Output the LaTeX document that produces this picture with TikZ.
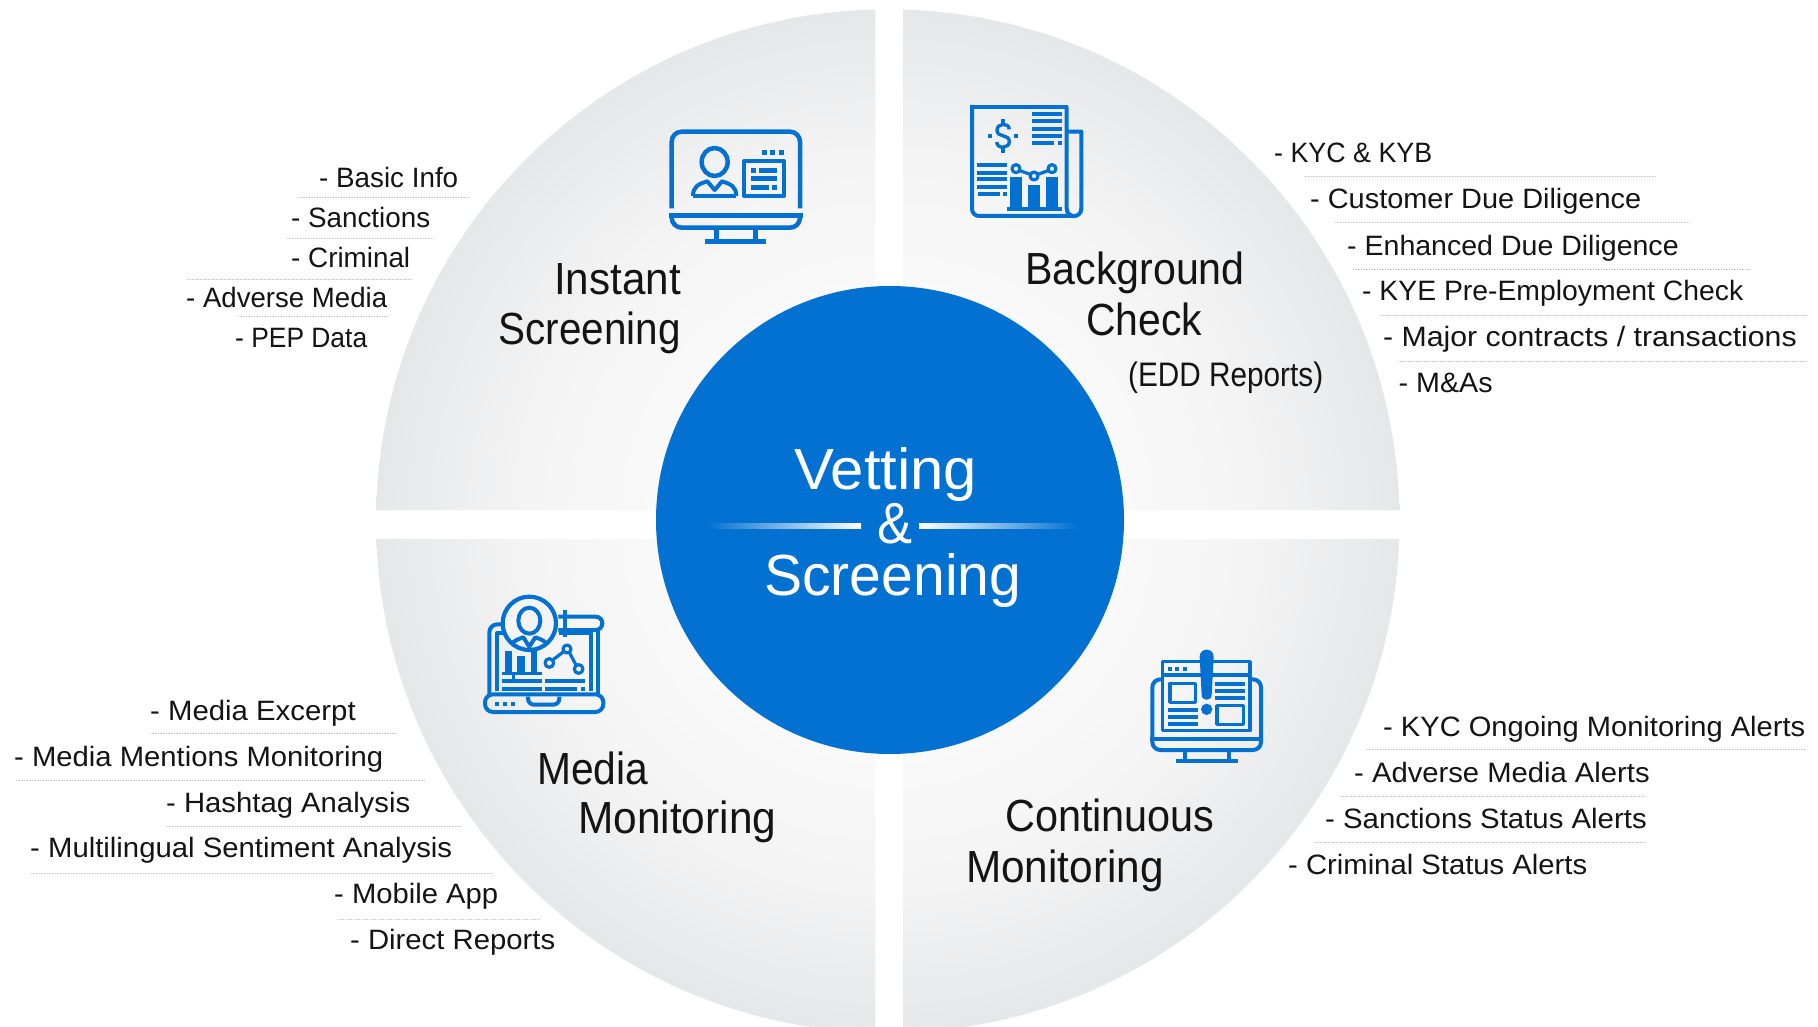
\documentclass[tikz,border=0pt]{standalone}
\usepackage{graphicx}
\usepackage{fontspec}
\setmainfont{Liberation Sans}
\definecolor{iblue}{HTML}{0271D1}
\definecolor{dk}{HTML}{141414}
\definecolor{ruleg}{HTML}{C8C8C8}
\definecolor{dA}{HTML}{FFFFFF}
\definecolor{dB}{HTML}{FAFAFA}
\definecolor{dC}{HTML}{F4F4F5}
\definecolor{dD}{HTML}{E6E7E8}
\pgfdeclareradialshading{discshade}{\pgfpoint{0bp}{0bp}}{color(0bp)=(dA);color(10bp)=(dB);color(17.5bp)=(dC);color(25bp)=(dD);color(50bp)=(dD)}
\newsavebox{\fitbox}
\newcommand{\fitw}[2]{\sbox{\fitbox}{#2}\pgfmathsetmacro{\fitr}{#1/\wd\fitbox*1pt}\scalebox{\fitr}[1]{\usebox{\fitbox}}}
% name, left, right, baseline, font size, colour, text
\newcommand{\lbl}[7]{\pgfmathsetmacro{\lblw}{#3-#2}\node[anchor=base west,inner sep=0pt,text=#6,font=\fontsize{#5}{#5}\selectfont] (#1) at (#2,#4) {\fitw{\lblw}{#7}};}
\newcommand{\lst}[5]{\lbl{#1}{#2}{#3}{#4}{28}{dk}{#5}}
\newcommand{\hd}[5]{\lbl{#1}{#2}{#3}{#4}{45}{dk}{#5}}
\newcommand{\rl}[3]{\draw[ruleg,line width=0.9pt,dash pattern=on 1pt off 0.6pt] (#1,#3) -- (#2,#3);}
\newcommand{\bx}[4]{\fill[iblue] (#1,#2) rectangle (#3,#4);}
\tikzset{
  icon/.style={draw=iblue,line width=#1,line cap=butt,line join=round},
  icon/.default=4.5pt,
  pic1/.style={x=0.33333pt,y=-0.33333pt}
}
\begin{document}
\begin{tikzpicture}[x=1pt,y=-1pt]
\useasboundingbox (0,0) rectangle (1818,1027);
\fill[white] (0,0) rectangle (1818,1027);
% quadrants
\begin{scope}
\clip (0,0) rectangle (875.3,510) (903,0) rectangle (1818,510) (0,539) rectangle (875.3,1027) (903,539) rectangle (1818,1027);
\shade[shading=discshade] (887.8,521) circle (511.7);
\end{scope}
% centre
\node[circle,fill=iblue,minimum size=468pt,inner sep=0pt] (hub) at (890,520) {};
\shade[left color=iblue,right color=white] (707,523) rectangle (861,528);
\shade[left color=white,right color=iblue] (919,523) rectangle (1077,528);
\lbl{cv}{794}{977}{489}{58}{white}{Vetting}
\lbl{ca}{877}{912}{543}{58}{white}{\&}
\lbl{cs}{764}{1021}{595}{58}{white}{Screening}
% headings
\hd{h1a}{554}{680.6}{294}{Instant}
\hd{h1b}{498.5}{680.6}{344.3}{Screening}
\hd{h2a}{1025}{1244.5}{284.5}{Background}
\hd{h2b}{1086}{1202}{335.5}{Check}
\lbl{h2c}{1128}{1323}{386.5}{34}{dk}{(EDD Reports)}
\hd{h3a}{537}{648}{784}{Media}
\hd{h3b}{578}{776}{833.6}{Monitoring}
\hd{h4a}{1005}{1214.5}{831}{Continuous}
\hd{h4b}{966}{1163.5}{882}{Monitoring}
% list TL
\lst{a1}{319}{458}{187.5}{- Basic Info}
\lst{a2}{291}{430}{228}{- Sanctions}
\lst{a3}{291}{410}{267.5}{- Criminal}
\lst{a4}{186}{387}{307.5}{- Adverse Media}
\lst{a5}{235}{367}{347.5}{- PEP Data}
\rl{298}{468}{197}\rl{287}{433}{238}\rl{187}{412}{279}\rl{238}{387}{316}
% list TR
\lst{b1}{1274}{1432}{163}{- KYC \& KYB}
\lst{b2}{1310}{1641}{209}{- Customer Due Diligence}
\lst{b3}{1347}{1678.5}{255}{- Enhanced Due Diligence}
\lst{b4}{1362}{1743}{300}{- KYE Pre-Employment Check}
\lst{b5}{1383}{1796.5}{346}{- Major contracts / transactions}
\lst{b6}{1398.5}{1492.5}{392}{- M\&As}
\rl{1304.5}{1655}{176}\rl{1335}{1689}{222.3}\rl{1353}{1750}{269}\rl{1381}{1807}{315.3}\rl{1398}{1807}{361.7}
% list BL
\lst{c1}{150}{355.5}{720}{- Media Excerpt}
\lst{c2}{14}{383}{766.7}{- Media Mentions Monitoring}
\lst{c3}{166}{410}{812}{- Hashtag Analysis}
\lst{c4}{30}{452}{857.7}{- Multilingual Sentiment Analysis}
\lst{c5}{334}{498}{903.3}{- Mobile App}
\lst{c6}{350}{555}{949.3}{- Direct Reports}
\rl{150}{395}{733.3}\rl{16}{425}{780.3}\rl{167}{460}{826.7}\rl{31}{492}{873.3}\rl{337}{540}{919.7}
% list BR
\lst{d1}{1383}{1805}{736}{- KYC Ongoing Monitoring Alerts}
\lst{d2}{1354}{1649.5}{782.5}{- Adverse Media Alerts}
\lst{d3}{1325}{1646.5}{828.3}{- Sanctions Status Alerts}
\lst{d4}{1288}{1587}{874}{- Criminal Status Alerts}
\rl{1367}{1807}{749.3}\rl{1340}{1645}{796}\rl{1315}{1645}{842.7}
% icon 1
\begin{scope}[shift={(640,90)},pic1]
\draw[icon,rounded corners=10pt] (95,355) -- (95,125) -- (480,125) -- (480,355);
\draw[icon] (88,376) -- (488,376);
\draw[icon,rounded corners=10pt] (95,376) -- (95,413) -- (480,413) -- (480,376);
\draw[icon] (230,413) -- (230,452) (347,413) -- (347,452);
\draw[icon] (195,454) -- (378,454);
\draw[icon] (224,216) ellipse [x radius=39,y radius=42];
\draw[icon,line width=4pt] (159,318) -- (289,318);
\draw[icon,line width=4pt] (159,318) .. controls (159,290) and (175,282) .. (202,274) -- (224,300) -- (246,274) .. controls (272,282) and (289,290) .. (289,318);
\draw[icon,line width=4pt] (313,213) rectangle (431,319);
\bx{333}{234}{348}{249}\bx{357}{234}{412}{249}\bx{333}{258}{412}{272}\bx{333}{285}{388}{299}\bx{396}{285}{412}{299}
\bx{366}{180}{381}{195}\bx{390}{180}{405}{195}\bx{417}{180}{432}{195}
\end{scope}
% icon 2
\begin{scope}[shift={(950,90)},pic1]
\draw[icon,line width=4pt,rounded corners=7pt] (66,45) -- (66,378) -- (372,378);
\draw[icon,line width=4pt] (61,50) -- (355,50);
\draw[icon,line width=4pt] (350,50) -- (350,355) .. controls (350,386) and (394,386) .. (394,355) -- (394,125) -- (355,125);
\bx{246}{65}{336}{77}\bx{246}{87}{336}{99}\bx{246}{110}{336}{122}\bx{246}{132}{336}{144}\bx{246}{153}{312}{165}\bx{324}{153}{336}{165}
\bx{81}{218}{171}{231}\bx{81}{243}{171}{256}\bx{81}{261}{171}{273}\bx{81}{285}{171}{297}\bx{84}{306}{150}{318}\bx{159}{306}{171}{318}
\bx{180}{262}{216}{350}\bx{234}{285}{270}{350}\bx{288}{262}{324}{350}\bx{171}{350}{336}{363}
\draw[icon,line width=3.2pt] (209,242) -- (241,253) (263,253) -- (295,242);
\draw[icon,line width=3.2pt] (198,236) circle (12) (252,258) circle (12) (306,236) circle (12);
\bx{153}{88}{165}{103}\bx{153}{172}{165}{188}\bx{114}{131}{126}{143}\bx{192}{131}{204}{143}
\draw[icon,line width=3.4pt] (178,118) .. controls (176,96) and (141,100) .. (141,120) .. controls (141,145) and (178,130) .. (178,155) .. controls (178,176) and (141,178) .. (140,156);
\end{scope}
% icon 3
\begin{scope}[shift={(470,580)},pic1]
\draw[icon,line width=4pt,rounded corners=8pt] (58,345) -- (58,133) -- (105,133);
\draw[icon,line width=4pt] (82,332) -- (82,158) -- (100,158);
\draw[icon,line width=4pt] (362,332) -- (362,158) -- (268,158);
\draw[icon,line width=4pt] (385,150) -- (385,345);
\draw[icon,line width=4pt,rounded corners=8pt] (45,343) -- (45,396) -- (400,396) -- (400,343) -- cycle;
\draw[icon,line width=4pt,rounded corners=6pt] (174,350) -- (174,374) -- (268,374) -- (268,350);
\bx{75}{366}{87}{378}\bx{99}{366}{111}{378}\bx{123}{366}{135}{378}
\fill[dC] (178,130) circle (80);
\draw[icon,line width=4.2pt] (178,130) circle (80);
\draw[icon,line width=4pt] (265,110) -- (376,110) .. controls (404,110) and (404,150) .. (376,150) -- (265,150);
\draw[icon,line width=4pt] (285,90) -- (285,172);
\draw[icon,line width=4pt] (178,122) ellipse [x radius=33,y radius=39];
\draw[icon,line width=4pt] (124,193) .. controls (132,182) and (145,177) .. (160,172) -- (178,200) -- (196,172) .. controls (211,177) and (224,182) .. (232,193);
\bx{105}{212}{125}{275}\bx{142}{228}{165}{275}\bx{182}{212}{202}{275}\bx{96}{275}{216}{285}\bx{126}{285}{136}{297}
\bx{96}{297}{216}{309}\bx{96}{321}{216}{333}\bx{225}{297}{345}{309}\bx{225}{321}{320}{333}\bx{333}{321}{345}{333}
\draw[icon,line width=3.2pt] (248,240) -- (282,214) (298,217) -- (318,255);
\draw[icon,line width=3.2pt] (238,249) circle (13) (291,207) circle (12) (326,267) circle (13);
\end{scope}
% icon 4
\begin{scope}[shift={(1140,640)},pic1]
\draw[icon,line width=4pt,rounded corners=8pt] (37,297) -- (37,118) -- (68,118);
\draw[icon,line width=4pt,rounded corners=8pt] (330,118) -- (363,118) -- (363,297);
\draw[icon,line width=4.3pt] (30,296) -- (370,296);
\draw[icon,line width=4pt,rounded corners=8pt] (37,296) -- (37,330) -- (363,330) -- (363,296);
\draw[icon,line width=4pt] (135,330) -- (135,360) (267,330) -- (267,360);
\bx{108}{357}{294}{369}
\draw[icon,line width=3.4pt] (67,65) rectangle (330,272);
\draw[icon,line width=3.4pt] (67,105) -- (330,105);
\bx{84}{81}{96}{93}\bx{106}{81}{118}{93}\bx{129}{81}{141}{93}
\fill[iblue] (179,50) .. controls (179,22) and (221,22) .. (221,50) -- (215,165) .. controls (215,184) and (185,184) .. (185,165) -- cycle;
\fill[iblue] (200,208) circle (17);
\draw[icon,line width=3.4pt] (90,130) rectangle (167,187);
\draw[icon,line width=3.4pt] (231,197) rectangle (311,253);
\bx{84}{203}{174}{215}\bx{84}{225}{174}{237}\bx{84}{246}{174}{258}
\bx{225}{126}{315}{138}\bx{225}{147}{315}{159}\bx{225}{168}{315}{180}
\end{scope}
\end{tikzpicture}
\end{document}
